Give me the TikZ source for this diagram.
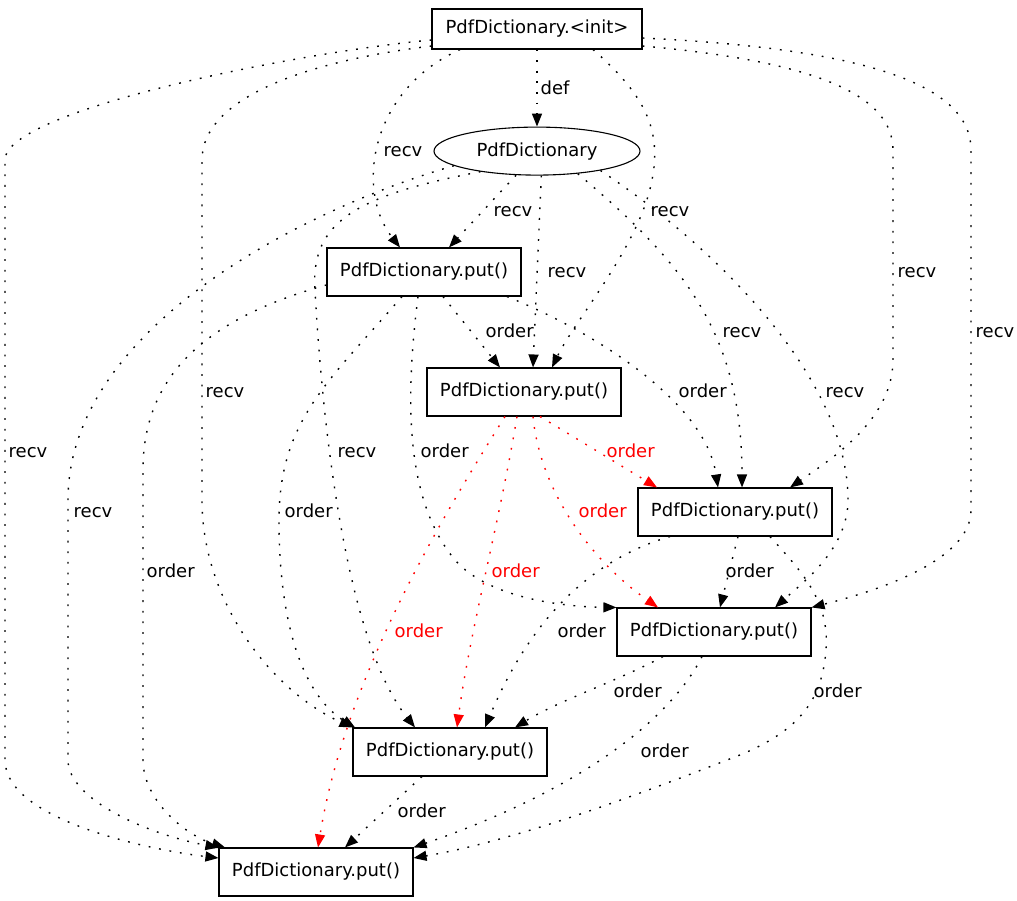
\documentclass[tikz,border=0pt]{standalone}
\usepackage{fontspec}
\setmainfont{DejaVu Sans}
\usepackage{xcolor}
\definecolor{ink}{RGB}{0,0,0}
\definecolor{hot}{RGB}{255,0,0}
\usetikzlibrary{arrows.meta,positioning,shapes.geometric}

\begin{document}
\begin{tikzpicture}[
  x=1pt, y=-1pt,
  meth/.style={rectangle,draw=ink,fill=white,line width=1.1pt,
               font=\fontsize{18}{22}\selectfont,
               minimum width=194pt, minimum height=48pt, inner sep=0pt},
  obj/.style={ellipse,draw=ink,fill=white,line width=1.1pt,
              font=\fontsize{18}{22}\selectfont,
              minimum width=206pt, minimum height=48pt, inner sep=0pt},
  dep/.style={draw=ink, line width=1.4pt, dash pattern=on 1.8pt off 8.8pt,
              -{Triangle[length=13pt,width=10pt]}},
  hotdep/.style={dep, color=hot},
  lab/.style={font=\fontsize{18}{22}\selectfont, anchor=base west, inner sep=0pt},
]
  \path[use as bounding box, fill=white] (0,0) rectangle (1017,901);

  %% Nodes
  \node[meth, minimum width=210pt, minimum height=40pt] (init) at (537,29) {PdfDictionary.<init>};
  \node[obj, below=77pt of init] (PD) {PdfDictionary};
  \node[meth] (P1) at (424,272) {PdfDictionary.put()};
  \node[meth] (P2) at (524,392) {PdfDictionary.put()};
  \node[meth] (P3) at (735,512) {PdfDictionary.put()};
  \node[meth] (P4) at (714,632) {PdfDictionary.put()};
  \node[meth] (P5) at (450,752) {PdfDictionary.put()};
  \node[meth] (P6) at (316,872) {PdfDictionary.put()};

  %% def
  \draw[dep] (init) -- (PD) node[lab] at (540,95) {def};

  %% recv from the constructor
  \draw[dep] ([xshift=-77]init.south) .. controls (370,90) and (355,190) .. ([xshift=-24]P1.north)
    node[lab] at (383,157) {recv};
  \draw[dep] ([xshift=56]init.south) .. controls (645,95) and (662,130) .. (652,180)
    .. controls (640,245) and (575,320) .. ([xshift=28]P2.north)
    node[lab] at (650,217) {recv};
  \draw[dep] ([yshift=-17]init.east) .. controls (800,60) and (893,90) .. (893,150) -- (893,360)
    .. controls (893,420) and (830,460) .. ([xshift=55]P3.north)
    node[lab] at (897,277) {recv};
  \draw[dep] ([yshift=-9]init.east) .. controls (850,48) and (971,80) .. (971,150) -- (971,510)
    .. controls (971,560) and (880,590) .. (P4.north east)
    node[lab] at (975,337) {recv};
  \draw[dep] ([yshift=-17]init.west) .. controls (300,62) and (202,100) .. (202,160) -- (202,500)
    .. controls (202,600) and (270,690) .. (P5.north west)
    node[lab] at (205,397) {recv};
  \draw[dep] ([yshift=-11]init.west) .. controls (300,52) and (5,110) .. (5,160) -- (5,760)
    .. controls (5,820) and (150,850) .. ([yshift=14]P6.west)
    node[lab] at (8,457) {recv};

  %% recv from the object
  \draw[dep] (PD.229) -- ([xshift=25]P1.north) node[lab] at (493,217) {recv};
  \draw[dep] (PD.280) -- ([xshift=9]P2.north) node[lab] at (547,277) {recv};
  \draw[dep] (PD.331) .. controls (680,260) and (742,330) .. ([xshift=7]P3.north)
    node[lab] at (722,337) {recv};
  \draw[dep] (PD.343) .. controls (720,250) and (848,380) .. (848,500)
    .. controls (848,550) and (800,585) .. ([xshift=61]P4.north)
    node[lab] at (825,397) {recv};
  \draw[dep] (PD.200) .. controls (360,195) and (310,220) .. (315,290)
    .. controls (322,420) and (345,640) .. ([xshift=-35]P5.north)
    node[lab] at (337,457) {recv};
  \draw[dep] (PD.190) .. controls (300,210) and (68,330) .. (68,500) -- (68,760)
    .. controls (68,800) and (150,835) .. (P6.north west)
    node[lab] at (73,517) {recv};

  %% order from the first put
  \draw[dep] ([xshift=19]P1.south) -- ([xshift=-24]P2.north) node[lab] at (485,337) {order};
  \draw[dep] ([xshift=83]P1.south) .. controls (590,330) and (705,400) .. ([xshift=-17]P3.north)
    node[lab] at (678,397) {order};
  \draw[dep] ([xshift=-6]P1.south) .. controls (405,400) and (405,500) .. (455,560)
    .. controls (490,600) and (570,607) .. (P4.north west)
    node[lab] at (420,457) {order};
  \draw[dep] ([xshift=-22]P1.south) .. controls (330,380) and (279,420) .. (279,520)
    .. controls (279,640) and (310,700) .. ([xshift=-95]P5.north)
    node[lab] at (284,517) {order};
  \draw[dep] ([yshift=-13]P1.west) .. controls (200,320) and (143,380) .. (143,470) -- (143,760)
    .. controls (143,800) and (185,835) .. ([xshift=-91]P6.north)
    node[lab] at (146,577) {order};

  %% order from the second put
  \draw[hotdep] ([xshift=16]P2.south) -- ([xshift=-78]P3.north) node[lab] at (606,457) {order};
  \draw[hotdep] ([xshift=9]P2.south) .. controls (540,490) and (590,560) .. ([xshift=-56]P4.north)
    node[lab] at (578,517) {order};
  \draw[hotdep] ([xshift=-7]P2.south) .. controls (500,520) and (470,630) .. ([xshift=7]P5.north)
    node[lab] at (491,577) {order};
  \draw[hotdep] ([xshift=-19]P2.south) .. controls (440,520) and (345,680) .. ([xshift=2]P6.north)
    node[lab] at (394,637) {order};

  %% order from the third put
  \draw[dep] ([xshift=3]P3.south) -- ([xshift=6]P4.north) node[lab] at (725,577) {order};
  \draw[dep] ([xshift=-65]P3.south) .. controls (590,560) and (530,620) .. ([xshift=35]P5.north)
    node[lab] at (557,637) {order};
  \draw[dep] ([xshift=35]P3.south) .. controls (800,570) and (830,600) .. (826,650)
    .. controls (822,700) and (800,730) .. (740,755)
    .. controls (650,790) and (520,840) .. ([yshift=14]P6.east)
    node[lab] at (813,697) {order};

  %% order from the fourth and fifth put
  \draw[dep] ([xshift=-51]P4.south) .. controls (620,680) and (560,700) .. ([xshift=65]P5.north)
    node[lab] at (613,697) {order};
  \draw[dep] ([xshift=-12]P4.south) .. controls (670,720) and (580,790) .. (P6.north east)
    node[lab] at (640,757) {order};
  \draw[dep] ([xshift=-28]P5.south) -- ([xshift=29]P6.north) node[lab] at (397,817) {order};
\end{tikzpicture}
\end{document}
